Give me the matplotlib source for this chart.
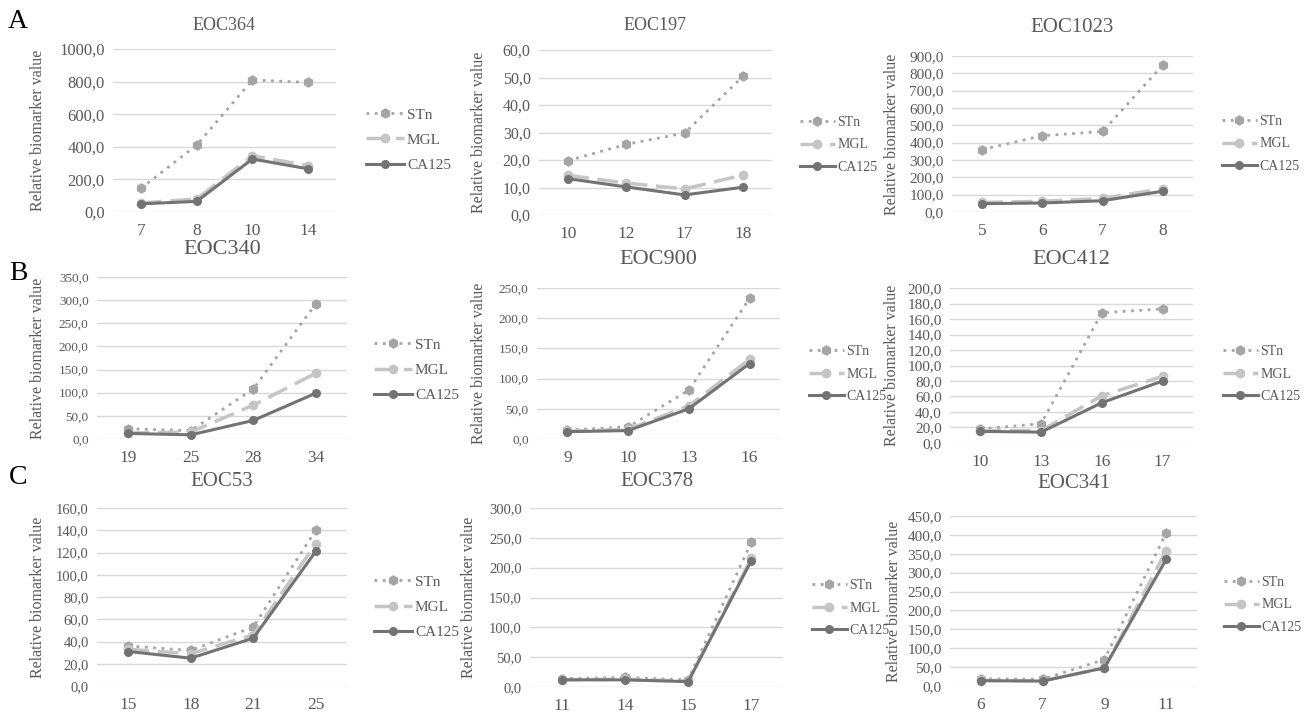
import matplotlib
matplotlib.use("Agg")
import matplotlib.pyplot as plt
from matplotlib.ticker import FuncFormatter, MultipleLocator

plt.rcParams['font.family'] = ['Liberation Serif', 'DejaVu Serif']

# data
titles = ["EOC364", "EOC197", "EOC1023",
          "EOC340", "EOC900", "EOC412",
          "EOC53", "EOC378", "EOC341"]
x_labels = [["7", "8", "10", "14"], ["10", "12", "17", "18"], ["5", "6", "7", "8"],
            ["19", "25", "28", "34"], ["9", "10", "13", "16"], ["10", "13", "16", "17"],
            ["15", "18", "21", "25"], ["11", "14", "15", "17"], ["6", "7", "9", "11"]]
stn = [[145, 410, 810, 795], [19.8, 25.7, 29.8, 50.4], [360, 440, 465, 848],
       [22, 18, 108, 292], [15, 20, 81, 233], [18, 25, 168, 173],
       [36, 32, 53, 140], [14, 16, 12, 243], [19, 18, 70, 405]]
mgl = [[55, 80, 345, 285], [14.4, 11.6, 9.5, 14.5], [55, 62, 78, 135],
       [13, 15, 73, 142], [13, 16, 55, 132], [16, 16, 61, 86],
       [33, 29, 46, 128], [12, 13, 10, 216], [15, 14, 47, 358]]
ca125 = [[50, 65, 325, 265], [13.2, 10.2, 7.3, 10.1], [48, 52, 65, 120],
         [12, 9, 40, 99], [12, 14, 50, 125], [15, 14, 52, 80],
         [31, 25, 43, 121], [12, 12, 9, 212], [14, 13, 48, 335]]
y_max = [1000, 60, 900, 350, 250, 200, 160, 300, 450]
y_step = [200, 10, 100, 50, 50, 20, 20, 50, 50]
series_names = ["STn", "MGL", "CA125"]
panel_letters = ["A", "B", "C"]

# layout in pixels: plot box (x0, x1, y_top, y_bottom), legend left/center, title y, ylabel x
W, H = 1305, 713
boxes = [(113, 336, 49, 212), (539, 772, 50, 215), (952, 1193, 56, 212),
         (97, 347, 277, 439), (537, 780, 288, 439), (950, 1193, 288, 443),
         (97, 347, 508, 686), (530, 783, 508, 687), (950, 1197, 516, 686)]
legend_pos = [(358, 140), (793, 145), (1215, 144),
              (366, 370), (802, 374), (1216, 374),
              (366, 607), (805, 608), (1217, 605)]
title_y = [25, 25, 28, 249, 260, 260, 482, 482, 483]
ylabel_x = [46, 487, 900, 46, 487, 900, 46, 477, 902]
tick_fs = [12, 11.5, 11, 9.5, 9.5, 11, 10.5, 10.5, 11]
title_fs = [13, 13, 15, 16, 16, 16, 15, 15, 15]
legend_fs = [11, 10, 10]
legend_sp = [0.75, 0.7, 0.7]

text_c = "#595959"
colors = ["#a5a5a5", "#c5c5c5", "#737373"]

fig = plt.figure(figsize=(W / 100, H / 100), dpi=100)

fmt = FuncFormatter(lambda v, p: f"{v:.1f}".replace(".", ","))

for i in range(9):
    x0, x1, yt, yb = boxes[i]
    ax = fig.add_axes([x0 / W, 1 - yb / H, (x1 - x0) / W, (yb - yt) / H])
    xs = range(len(x_labels[i]))
    ax.plot(xs, stn[i], color=colors[0], lw=2, ls=(0, (1, 2)),
            marker="h", ms=6.5, label=series_names[0])
    ax.plot(xs, mgl[i], color=colors[1], lw=2.5, ls=(0, (6, 2.5)),
            marker="o", ms=6, label=series_names[1])
    ax.plot(xs, ca125[i], color=colors[2], lw=2.2, ls="-",
            marker="o", ms=5.5, label=series_names[2])
    ax.set_xlim(-0.5, len(x_labels[i]) - 0.5)
    ax.set_ylim(0, y_max[i])
    ax.yaxis.set_major_locator(MultipleLocator(y_step[i]))
    ax.yaxis.set_major_formatter(fmt)
    ax.set_xticks(list(xs))
    ax.set_xticklabels(x_labels[i])
    ax.grid(axis="y", color="#d9d9d9", lw=1)
    ax.set_axisbelow(True)
    for s in ax.spines.values():
        s.set_visible(False)
    ax.tick_params(length=0, colors=text_c, labelsize=tick_fs[i], pad=6)
    ax.tick_params(axis="x", labelsize=12.5, pad=8)
    ax.set_ylabel("Relative biomarker value", color=text_c, fontsize=11.5)
    ax.yaxis.set_label_coords((ylabel_x[i] - x0) / (x1 - x0), 0.5)
    fig.text((x0 + x1) / 2 / W, 1 - title_y[i] / H, titles[i],
             ha="center", va="center", fontsize=title_fs[i], color=text_c)
    lx, ly = legend_pos[i]
    ax.legend(loc="center left", bbox_to_anchor=(lx / W, 1 - ly / H),
              bbox_transform=fig.transFigure, frameon=False,
              fontsize=legend_fs[i % 3], handlelength=2.5, handletextpad=0.2,
              labelspacing=legend_sp[i % 3], labelcolor=text_c, borderpad=0)

for j, letter in enumerate(panel_letters):
    fig.text(18 / W, 1 - [22, 273, 478][j] / H, letter, fontsize=20,
             ha="center", va="center", color="black")

fig.savefig("out.png", dpi=100)
